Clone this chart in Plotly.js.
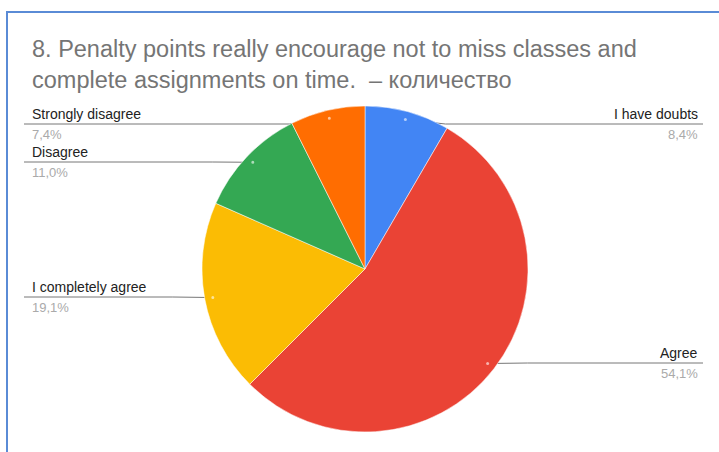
<!DOCTYPE html>
<html>
<head>
<meta charset="utf-8">
<script src="https://cdn.plot.ly/plotly-3.0.1.min.js"></script>
<style>
html,body{margin:0;padding:0;background:#fff;}
#frame{position:absolute;left:6px;top:11px;width:713px;height:441px;border-left:2px solid #5a8bd6;border-top:2px solid #5a8bd6;box-sizing:border-box;}
#chart{position:absolute;left:0;top:0;width:719px;height:452px;}
</style>
</head>
<body>
<div id="chart"></div>
<div id="frame"></div>
<script>
// ---- data ----
const categories = ["I have doubts", "Agree", "I completely agree", "Disagree", "Strongly disagree"];
const values = [8.4, 54.1, 19.1, 11.0, 7.4];
const colors = ["#4285f4", "#ea4335", "#fbbc04", "#34a853", "#ff6d01"];
const titleText = "8. Penalty points really encourage not to miss classes and<br>complete assignments on time.  – количество";

// ---- layout (pixels) ----
const W = 719, H = 452;
const cx = 365, cy = 269, R = 163;
// label placement: side and y of the label line
const labelPos = {
  "I have doubts":      {side: "right", line: 124},
  "Agree":              {side: "right", line: 363},
  "I completely agree": {side: "left",  line: 297},
  "Disagree":           {side: "left",  line: 162},
  "Strongly disagree":  {side: "left",  line: 124}
};
const leftX = 24, rightX = 703;
const px = x => x / W, py = y => 1 - y / H;

const total = values.reduce((a, b) => a + b, 0);
const shapes = [], annotations = [];
let cum = 0;
values.forEach((v, i) => {
  const mid = (cum + v / 2) / total * 2 * Math.PI;
  cum += v;
  const ax = cx + 0.95 * R * Math.sin(mid);
  const ay = cy - 0.95 * R * Math.cos(mid);
  const p = labelPos[categories[i]];
  const right = p.side === "right";
  const endX = right ? rightX : leftX;
  const bendX = right ? ax + 40 : ax - 40;
  shapes.push({
    type: "path", xref: "paper", yref: "paper", layer: "below",
    path: `M ${px(endX)},${py(p.line)} L ${px(bendX)},${py(p.line)} L ${px(ax)},${py(ay)}`,
    line: {color: "#777", width: 1}
  });
  shapes.push({
    type: "circle", xref: "paper", yref: "paper", layer: "above",
    x0: px(ax - 1.5), x1: px(ax + 1.5), y0: py(ay - 1.5), y1: py(ay + 1.5),
    fillcolor: "rgba(255,255,255,0.6)", line: {width: 0}
  });
  const tx = right ? rightX - 3 : leftX + 6;
  annotations.push({
    xref: "paper", yref: "paper", x: px(tx), y: py(p.line),
    xanchor: right ? "right" : "left", yanchor: "bottom", showarrow: false,
    text: categories[i], font: {family: "Liberation Sans, Arial, sans-serif", size: 14, color: "#222"}
  });
  annotations.push({
    xref: "paper", yref: "paper", x: px(tx), y: py(p.line + 1),
    xanchor: right ? "right" : "left", yanchor: "top", showarrow: false,
    text: (v / total * 100).toFixed(1).replace(".", ",") + "%",
    font: {family: "Liberation Sans, Arial, sans-serif", size: 13, color: "#aaa"}
  });
});

const trace = {
  type: "pie",
  labels: categories,
  values: values,
  sort: false,
  direction: "clockwise",
  rotation: 0,
  marker: {colors: colors, line: {color: "#fff", width: 0.5}},
  textinfo: "none",
  hoverinfo: "label+percent",
  showlegend: false,
  domain: {x: [px(cx - R), px(cx + R)], y: [py(cy + R), py(cy - R)]}
};

const layout = {
  width: W, height: H,
  margin: {l: 0, r: 0, t: 0, b: 0},
  paper_bgcolor: "#fff",
  title: {
    text: titleText,
    x: 32 / W, xanchor: "left", xref: "paper",
    y: 1 - 57 / H, yanchor: "top", yref: "container",
    font: {family: "Liberation Sans, Arial, sans-serif", size: 23.5, color: "#757575"}
  },
  shapes: shapes,
  annotations: annotations
};

Plotly.newPlot("chart", [trace], layout, {displayModeBar: false, staticPlot: true});
</script>
</body>
</html>
